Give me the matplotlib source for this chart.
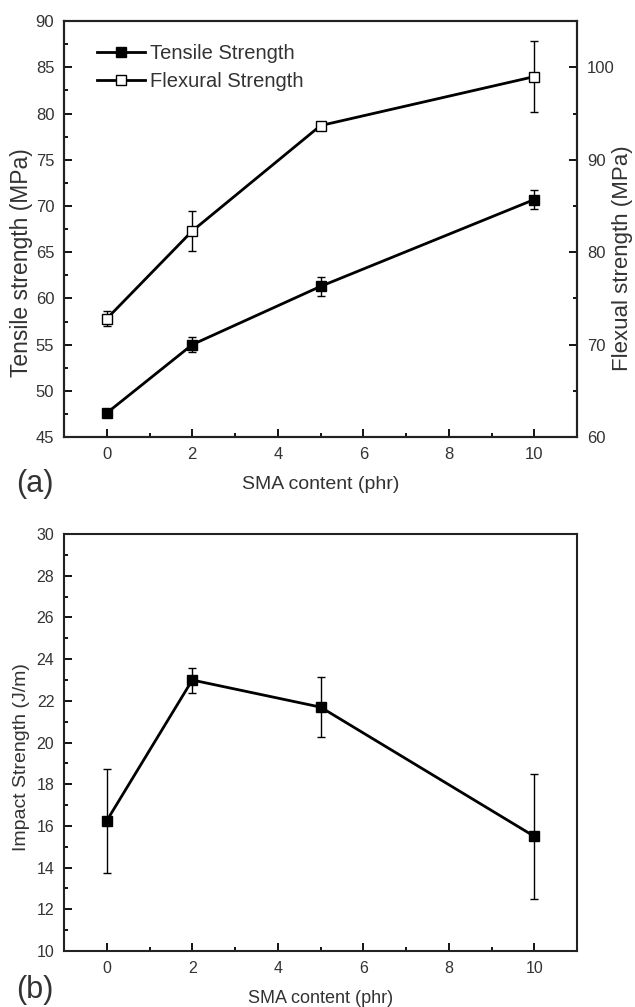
import numpy as np
import matplotlib
matplotlib.use('Agg')
import matplotlib.pyplot as plt
from matplotlib.ticker import MultipleLocator
from matplotlib.lines import Line2D

plt.rcParams['font.family'] = ['Liberation Sans', 'DejaVu Sans']

# data
sma = [0, 2, 5, 10]
tensile = [47.6, 55.0, 61.3, 70.7]
tensile_err = [0.4, 0.8, 1.0, 1.0]
flexural = [72.8, 82.3, 93.7, 99.0]
flexural_err = [0.8, 2.2, 0.3, 3.8]
impact = [16.25, 23.0, 21.7, 15.5]
impact_err = [2.5, 0.6, 1.45, 3.0]

TXT = '#333333'


def style_ax(ax, right=False, size=12):
    ax.tick_params(which='both', direction='in', labelsize=size, top=False,
                   right=right, width=1.3, labelcolor=TXT)
    ax.tick_params(which='major', length=6, pad=7)
    ax.tick_params(which='minor', length=3)
    for s in ax.spines.values():
        s.set_linewidth(1.5)
        s.set_color('#222222')


fig = plt.figure(figsize=(6.35, 10.07), dpi=100)
ebkw = dict(color='k', lw=2, marker='s', ms=6.5, mec='k', ecolor='k',
            elinewidth=1, capsize=3, capthick=1)

# (a) tensile / flexural
ax1 = fig.add_axes([0.1008, 0.566, 0.808, 0.413])
ax1.errorbar(sma, tensile, yerr=tensile_err, mfc='k', **ebkw)
ax1.set_xlim(-1, 11)
ax1.set_ylim(45, 90)
ax1.xaxis.set_major_locator(MultipleLocator(2))
ax1.xaxis.set_minor_locator(MultipleLocator(1))
ax1.yaxis.set_major_locator(MultipleLocator(5))
ax1.yaxis.set_minor_locator(MultipleLocator(2.5))
ax1.set_ylabel('Tensile strength (MPa)', fontsize=16.5, color=TXT)
ax1.yaxis.set_label_coords(-0.082, 0.42)
ax1.yaxis.label.set_va('center')
ax1.set_xlabel('SMA content (phr)', fontsize=14, color=TXT, labelpad=10)
style_ax(ax1)

ax2 = ax1.twinx()
ax2.errorbar(sma, flexural, yerr=flexural_err, mfc='white', **ebkw)
ax2.set_ylim(60, 105)
ax2.yaxis.set_major_locator(MultipleLocator(10))
ax2.yaxis.set_minor_locator(MultipleLocator(5))
ax2.set_ylabel('Flexual strength (MPa)', fontsize=16, color=TXT)
ax2.yaxis.set_label_coords(1.088, 0.43)
ax2.yaxis.label.set_va('center')
style_ax(ax2, right=True)
ax2.tick_params(which='both', left=False)

handles = [Line2D([], [], color='k', lw=2, marker='s', ms=6.5, mfc='k', mec='k'),
           Line2D([], [], color='k', lw=2, marker='s', ms=6.5, mfc='white', mec='k')]
ax1.legend(handles, ['Tensile Strength', 'Flexural Strength'], loc='upper left',
           bbox_to_anchor=(0.064, 0.945), frameon=False, fontsize=14.5,
           handlelength=2.4, handletextpad=0.25, borderaxespad=0,
           borderpad=0, labelspacing=0.45, labelcolor=TXT)
fig.text(0.025, 0.519, '(a)', fontsize=22, color=TXT, va='center')

# (b) impact
ax3 = fig.add_axes([0.1008, 0.0556, 0.808, 0.414])
ax3.errorbar(sma, impact, yerr=impact_err, mfc='k', **ebkw)
ax3.set_xlim(-1, 11)
ax3.set_ylim(10, 30)
ax3.xaxis.set_major_locator(MultipleLocator(2))
ax3.xaxis.set_minor_locator(MultipleLocator(1))
ax3.yaxis.set_major_locator(MultipleLocator(2))
ax3.yaxis.set_minor_locator(MultipleLocator(1))
ax3.set_ylabel('Impact Strength (J/m)', fontsize=14, color=TXT)
ax3.yaxis.set_label_coords(-0.082, 0.465)
ax3.yaxis.label.set_va('center')
ax3.set_xlabel('SMA content (phr)', fontsize=13, color=TXT, labelpad=10)
style_ax(ax3, size=11.5)
fig.text(0.025, 0.017, '(b)', fontsize=22, color=TXT, va='center')

fig.savefig('out.png', dpi=100)
